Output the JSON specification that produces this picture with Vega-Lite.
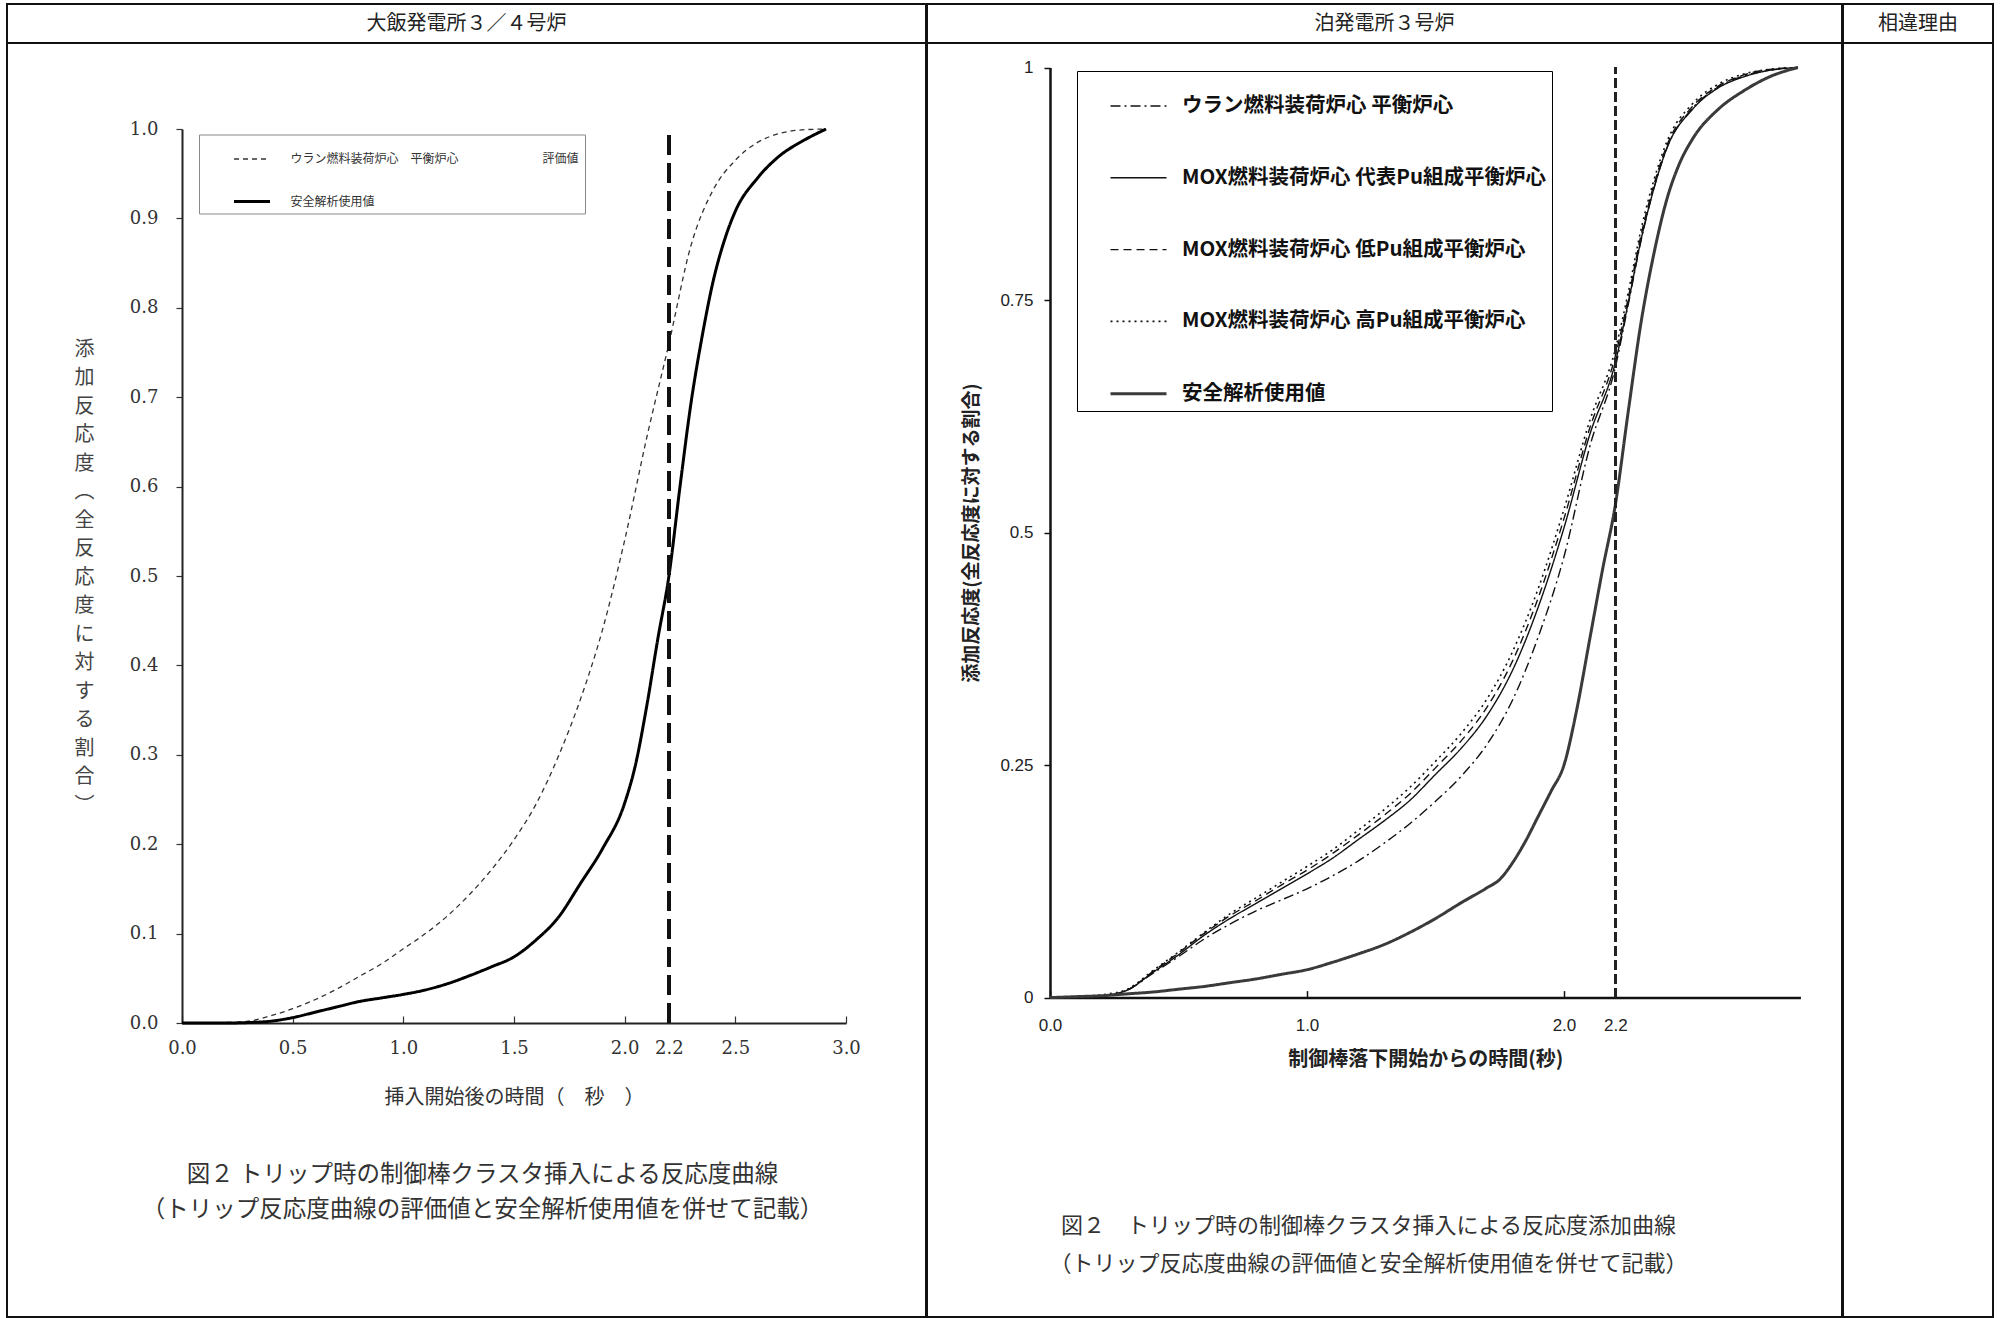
{
  "$schema": "https://vega.github.io/schema/vega-lite/v6.json",
  "background": "white",
  "padding": {"left": 6, "top": 3, "right": 0, "bottom": 0},
  "config": {
    "view": {"stroke": "#111", "strokeWidth": 2},
    "font": "Noto Sans CJK JP",
    "axis": {"grid": false}
  },
  "spacing": -2,
  "resolve": {
    "scale": {"color": "independent", "strokeDash": "independent", "strokeWidth": "independent"},
    "legend": {"color": "independent", "strokeDash": "independent", "strokeWidth": "independent"}
  },
  "hconcat": [
    {
      "spacing": 0,
      "bounds": "flush",
      "resolve": {
        "scale": {"color": "independent", "strokeDash": "independent", "strokeWidth": "independent"},
        "legend": {"color": "independent", "strokeDash": "independent", "strokeWidth": "independent"}
      },
      "vconcat": [
        {
          "width": 919, "height": 39,
          "data": {"values": [{"h": "大飯発電所３／４号炉"}]},
          "mark": {"type": "text", "fontSize": 20, "color": "#222"},
          "encoding": {
            "text": {"field": "h"},
            "x": {"datum": 0.5, "type": "quantitative", "scale": {"domain": [0, 1]}, "axis": null}
          }
        },
        {
          "width": 919, "height": 1274,
          "title": {
            "text": ["図２ トリップ時の制御棒クラスタ挿入による反応度曲線", "（トリップ反応度曲線の評価値と安全解析使用値を併せて記載）"],
            "orient": "bottom", "anchor": "middle", "frame": "group",
            "offset": -154, "dx": 16, "fontSize": 23.5, "lineHeight": 35,
            "fontWeight": "normal", "font": "Noto Sans CJK JP", "color": "#333", "baseline": "top"
          },
          "data": {"values": [
            {"s": "ウラン燃料装荷炉心　平衡炉心　　　　　　　評価値　　　　　", "t": 0, "v": 0},
            {"s": "ウラン燃料装荷炉心　平衡炉心　　　　　　　評価値　　　　　", "t": 0.1, "v": 0},
            {"s": "ウラン燃料装荷炉心　平衡炉心　　　　　　　評価値　　　　　", "t": 0.2, "v": 0.0005},
            {"s": "ウラン燃料装荷炉心　平衡炉心　　　　　　　評価値　　　　　", "t": 0.3, "v": 0.002},
            {"s": "ウラン燃料装荷炉心　平衡炉心　　　　　　　評価値　　　　　", "t": 0.4, "v": 0.008},
            {"s": "ウラン燃料装荷炉心　平衡炉心　　　　　　　評価値　　　　　", "t": 0.5, "v": 0.016},
            {"s": "ウラン燃料装荷炉心　平衡炉心　　　　　　　評価値　　　　　", "t": 0.6, "v": 0.026},
            {"s": "ウラン燃料装荷炉心　平衡炉心　　　　　　　評価値　　　　　", "t": 0.7, "v": 0.038},
            {"s": "ウラン燃料装荷炉心　平衡炉心　　　　　　　評価値　　　　　", "t": 0.8, "v": 0.052},
            {"s": "ウラン燃料装荷炉心　平衡炉心　　　　　　　評価値　　　　　", "t": 0.9, "v": 0.066},
            {"s": "ウラン燃料装荷炉心　平衡炉心　　　　　　　評価値　　　　　", "t": 1.0, "v": 0.083},
            {"s": "ウラン燃料装荷炉心　平衡炉心　　　　　　　評価値　　　　　", "t": 1.1, "v": 0.100},
            {"s": "ウラン燃料装荷炉心　平衡炉心　　　　　　　評価値　　　　　", "t": 1.2, "v": 0.120},
            {"s": "ウラン燃料装荷炉心　平衡炉心　　　　　　　評価値　　　　　", "t": 1.3, "v": 0.144},
            {"s": "ウラン燃料装荷炉心　平衡炉心　　　　　　　評価値　　　　　", "t": 1.4, "v": 0.172},
            {"s": "ウラン燃料装荷炉心　平衡炉心　　　　　　　評価値　　　　　", "t": 1.5, "v": 0.205},
            {"s": "ウラン燃料装荷炉心　平衡炉心　　　　　　　評価値　　　　　", "t": 1.6, "v": 0.245},
            {"s": "ウラン燃料装荷炉心　平衡炉心　　　　　　　評価値　　　　　", "t": 1.7, "v": 0.298},
            {"s": "ウラン燃料装荷炉心　平衡炉心　　　　　　　評価値　　　　　", "t": 1.8, "v": 0.362},
            {"s": "ウラン燃料装荷炉心　平衡炉心　　　　　　　評価値　　　　　", "t": 1.9, "v": 0.440},
            {"s": "ウラン燃料装荷炉心　平衡炉心　　　　　　　評価値　　　　　", "t": 2.0, "v": 0.540},
            {"s": "ウラン燃料装荷炉心　平衡炉心　　　　　　　評価値　　　　　", "t": 2.1, "v": 0.655},
            {"s": "ウラン燃料装荷炉心　平衡炉心　　　　　　　評価値　　　　　", "t": 2.2, "v": 0.760},
            {"s": "ウラン燃料装荷炉心　平衡炉心　　　　　　　評価値　　　　　", "t": 2.3, "v": 0.870},
            {"s": "ウラン燃料装荷炉心　平衡炉心　　　　　　　評価値　　　　　", "t": 2.4, "v": 0.932},
            {"s": "ウラン燃料装荷炉心　平衡炉心　　　　　　　評価値　　　　　", "t": 2.5, "v": 0.965},
            {"s": "ウラン燃料装荷炉心　平衡炉心　　　　　　　評価値　　　　　", "t": 2.6, "v": 0.985},
            {"s": "ウラン燃料装荷炉心　平衡炉心　　　　　　　評価値　　　　　", "t": 2.7, "v": 0.995},
            {"s": "ウラン燃料装荷炉心　平衡炉心　　　　　　　評価値　　　　　", "t": 2.8, "v": 0.999},
            {"s": "ウラン燃料装荷炉心　平衡炉心　　　　　　　評価値　　　　　", "t": 2.91, "v": 1.0},
            {"s": "安全解析使用値", "t": 0, "v": 0},
            {"s": "安全解析使用値", "t": 0.2, "v": 0},
            {"s": "安全解析使用値", "t": 0.3, "v": 0.0005},
            {"s": "安全解析使用値", "t": 0.4, "v": 0.002},
            {"s": "安全解析使用値", "t": 0.5, "v": 0.006},
            {"s": "安全解析使用値", "t": 0.6, "v": 0.012},
            {"s": "安全解析使用値", "t": 0.7, "v": 0.018},
            {"s": "安全解析使用値", "t": 0.8, "v": 0.024},
            {"s": "安全解析使用値", "t": 0.9, "v": 0.028},
            {"s": "安全解析使用値", "t": 1.0, "v": 0.032},
            {"s": "安全解析使用値", "t": 1.1, "v": 0.037},
            {"s": "安全解析使用値", "t": 1.2, "v": 0.044},
            {"s": "安全解析使用値", "t": 1.3, "v": 0.053},
            {"s": "安全解析使用値", "t": 1.4, "v": 0.063},
            {"s": "安全解析使用値", "t": 1.5, "v": 0.074},
            {"s": "安全解析使用値", "t": 1.6, "v": 0.093},
            {"s": "安全解析使用値", "t": 1.7, "v": 0.118},
            {"s": "安全解析使用値", "t": 1.8, "v": 0.156},
            {"s": "安全解析使用値", "t": 1.9, "v": 0.195},
            {"s": "安全解析使用値", "t": 2.0, "v": 0.246},
            {"s": "安全解析使用値", "t": 2.05, "v": 0.290},
            {"s": "安全解析使用値", "t": 2.1, "v": 0.355},
            {"s": "安全解析使用値", "t": 2.15, "v": 0.430},
            {"s": "安全解析使用値", "t": 2.2, "v": 0.500},
            {"s": "安全解析使用値", "t": 2.25, "v": 0.600},
            {"s": "安全解析使用値", "t": 2.3, "v": 0.694},
            {"s": "安全解析使用値", "t": 2.35, "v": 0.768},
            {"s": "安全解析使用値", "t": 2.4, "v": 0.830},
            {"s": "安全解析使用値", "t": 2.45, "v": 0.875},
            {"s": "安全解析使用値", "t": 2.5, "v": 0.908},
            {"s": "安全解析使用値", "t": 2.6, "v": 0.945},
            {"s": "安全解析使用値", "t": 2.7, "v": 0.970},
            {"s": "安全解析使用値", "t": 2.8, "v": 0.986},
            {"s": "安全解析使用値", "t": 2.91, "v": 1.0}
          ]},
          "layer": [
            {
              "mark": {"type": "line", "interpolate": "monotone"},
              "encoding": {
                "x": {
                  "field": "t", "type": "quantitative",
                  "scale": {"domain": [0, 3], "range": [175, 839], "nice": false, "zero": false},
                  "axis": {
                    "title": "挿入開始後の時間（　秒　）",
                    "values": [0, 0.5, 1, 1.5, 2, 2.2, 2.5, 3], "format": ".1f",
                    "offset": -294, "tickSize": -7, "tickColor": "#333", "tickWidth": 1.2,
                    "domainColor": "#222", "domainWidth": 2,
                    "labelFont": "DejaVu Serif", "labelFontSize": 18, "labelColor": "#333",
                    "labelPadding": 23, "labelFlush": false, "labelOverlap": false,
                    "titleFont": "Noto Sans CJK JP", "titleFontSize": 20, "titleFontWeight": "normal",
                    "titleColor": "#333", "titlePadding": 30
                  }
                },
                "y": {
                  "field": "v", "type": "quantitative",
                  "scale": {"domain": [0, 1], "range": [980, 86], "nice": false, "zero": false},
                  "axis": {
                    "title": ["添", "加", "反", "応", "度", "　", "︵", "全", "反", "応", "度", "に", "対", "す", "る", "割", "合", "︶"],
                    "values": [0, 0.1, 0.2, 0.3, 0.4, 0.5, 0.6, 0.7, 0.8, 0.9, 1.0], "format": ".1f",
                    "offset": -175, "tickSize": 6, "tickColor": "#333", "tickWidth": 1.2,
                    "domainColor": "#222", "domainWidth": 2,
                    "labelFont": "DejaVu Serif", "labelFontSize": 18, "labelColor": "#333",
                    "labelPadding": 18, "labelFlush": false, "labelOverlap": false,
                    "titleAngle": 0, "titleX": -98, "titleY": 306, "titleAlign": "center", "titleBaseline": "middle",
                    "titleLineHeight": 28.5, "titleFont": "Noto Sans CJK JP", "titleFontSize": 20,
                    "titleFontWeight": "normal", "titleColor": "#444"
                  }
                },
                "color": {
                  "field": "s", "type": "nominal",
                  "scale": {"domain": ["ウラン燃料装荷炉心　平衡炉心　　　　　　　評価値　　　　　", "安全解析使用値"], "range": ["#333", "#000"]},
                  "legend": {"title": null, "orient": "none", "legendX": 192, "legendY": 91.5, "strokeColor": "#8a8a8a", "fillColor": "white", "padding": 5.5, "symbolType": "stroke", "symbolSize": 1296, "symbolOffset": 28, "symbolStrokeWidth": 2, "labelOffset": 19, "labelFontSize": 12, "labelFont": "Noto Sans CJK JP", "labelColor": "#333", "rowPadding": 17, "labelLimit": 800}
                },
                "strokeDash": {
                  "field": "s", "type": "nominal",
                  "scale": {"domain": ["ウラン燃料装荷炉心　平衡炉心　　　　　　　評価値　　　　　", "安全解析使用値"], "range": [[5, 4], [1, 0]]},
                  "legend": {"title": null, "orient": "none", "legendX": 192, "legendY": 91.5, "strokeColor": "#8a8a8a", "fillColor": "white", "padding": 5.5, "symbolType": "stroke", "symbolSize": 1296, "symbolOffset": 28, "symbolStrokeWidth": 2, "labelOffset": 19, "labelFontSize": 12, "labelFont": "Noto Sans CJK JP", "labelColor": "#333", "rowPadding": 17, "labelLimit": 800}
                },
                "strokeWidth": {
                  "field": "s", "type": "nominal",
                  "scale": {"type": "ordinal", "domain": ["ウラン燃料装荷炉心　平衡炉心　　　　　　　評価値　　　　　", "安全解析使用値"], "range": [1.3, 3]},
                  "legend": {"title": null, "orient": "none", "legendX": 192, "legendY": 91.5, "strokeColor": "#8a8a8a", "fillColor": "white", "padding": 5.5, "symbolType": "stroke", "symbolSize": 1296, "symbolOffset": 28, "symbolStrokeWidth": 2, "labelOffset": 19, "labelFontSize": 12, "labelFont": "Noto Sans CJK JP", "labelColor": "#333", "rowPadding": 17, "labelLimit": 800}
                }
              }
            },
            {
              "mark": {"type": "rule", "strokeDash": [20, 8], "strokeWidth": 3.5, "color": "#111"},
              "encoding": {"x": {"datum": 2.2}, "y": {"datum": 0}, "y2": {"datum": 1}}
            }
          ]
        }
      ]
    },
    {
      "spacing": 0,
      "bounds": "flush",
      "resolve": {
        "scale": {"color": "independent", "strokeDash": "independent", "strokeWidth": "independent"},
        "legend": {"color": "independent", "strokeDash": "independent", "strokeWidth": "independent"}
      },
      "vconcat": [
        {
          "width": 915, "height": 39,
          "data": {"values": [{"h": "泊発電所３号炉"}]},
          "mark": {"type": "text", "fontSize": 20, "color": "#222"},
          "encoding": {
            "text": {"field": "h"},
            "x": {"datum": 0.5, "type": "quantitative", "scale": {"domain": [0, 1]}, "axis": null}
          }
        },
        {
          "width": 915, "height": 1274,
          "title": {
            "text": ["図２　トリップ時の制御棒クラスタ挿入による反応度添加曲線", "（トリップ反応度曲線の評価値と安全解析使用値を併せて記載）"],
            "orient": "bottom", "anchor": "middle", "frame": "group",
            "offset": -101, "dx": -16, "fontSize": 22, "lineHeight": 38,
            "fontWeight": "normal", "font": "Noto Sans CJK JP", "color": "#333", "baseline": "top"
          },
          "data": {"values": [
            {"s": "ウラン燃料装荷炉心 平衡炉心", "t": 0, "v": 0},
            {"s": "ウラン燃料装荷炉心 平衡炉心", "t": 0.1, "v": 0.001},
            {"s": "ウラン燃料装荷炉心 平衡炉心", "t": 0.2, "v": 0.002},
            {"s": "ウラン燃料装荷炉心 平衡炉心", "t": 0.3, "v": 0.008},
            {"s": "ウラン燃料装荷炉心 平衡炉心", "t": 0.4, "v": 0.026},
            {"s": "ウラン燃料装荷炉心 平衡炉心", "t": 0.5, "v": 0.044},
            {"s": "ウラン燃料装荷炉心 平衡炉心", "t": 0.6, "v": 0.063},
            {"s": "ウラン燃料装荷炉心 平衡炉心", "t": 0.7, "v": 0.079},
            {"s": "ウラン燃料装荷炉心 平衡炉心", "t": 0.8, "v": 0.093},
            {"s": "ウラン燃料装荷炉心 平衡炉心", "t": 0.9, "v": 0.105},
            {"s": "ウラン燃料装荷炉心 平衡炉心", "t": 1.0, "v": 0.117},
            {"s": "ウラン燃料装荷炉心 平衡炉心", "t": 1.1, "v": 0.131},
            {"s": "ウラン燃料装荷炉心 平衡炉心", "t": 1.2, "v": 0.147},
            {"s": "ウラン燃料装荷炉心 平衡炉心", "t": 1.3, "v": 0.166},
            {"s": "ウラン燃料装荷炉心 平衡炉心", "t": 1.4, "v": 0.187},
            {"s": "ウラン燃料装荷炉心 平衡炉心", "t": 1.5, "v": 0.211},
            {"s": "ウラン燃料装荷炉心 平衡炉心", "t": 1.6, "v": 0.238},
            {"s": "ウラン燃料装荷炉心 平衡炉心", "t": 1.7, "v": 0.272},
            {"s": "ウラン燃料装荷炉心 平衡炉心", "t": 1.8, "v": 0.320},
            {"s": "ウラン燃料装荷炉心 平衡炉心", "t": 1.9, "v": 0.388},
            {"s": "ウラン燃料装荷炉心 平衡炉心", "t": 2.0, "v": 0.474},
            {"s": "ウラン燃料装荷炉心 平衡炉心", "t": 2.1, "v": 0.592},
            {"s": "ウラン燃料装荷炉心 平衡炉心", "t": 2.2, "v": 0.678},
            {"s": "ウラン燃料装荷炉心 平衡炉心", "t": 2.25, "v": 0.745},
            {"s": "ウラン燃料装荷炉心 平衡炉心", "t": 2.3, "v": 0.814},
            {"s": "ウラン燃料装荷炉心 平衡炉心", "t": 2.35, "v": 0.870},
            {"s": "ウラン燃料装荷炉心 平衡炉心", "t": 2.4, "v": 0.913},
            {"s": "ウラン燃料装荷炉心 平衡炉心", "t": 2.5, "v": 0.956},
            {"s": "ウラン燃料装荷炉心 平衡炉心", "t": 2.6, "v": 0.979},
            {"s": "ウラン燃料装荷炉心 平衡炉心", "t": 2.7, "v": 0.991},
            {"s": "ウラン燃料装荷炉心 平衡炉心", "t": 2.8, "v": 0.997},
            {"s": "ウラン燃料装荷炉心 平衡炉心", "t": 2.91, "v": 1.0},
            {"s": "MOX燃料装荷炉心 代表Pu組成平衡炉心", "t": 0, "v": 0},
            {"s": "MOX燃料装荷炉心 代表Pu組成平衡炉心", "t": 0.1, "v": 0.001},
            {"s": "MOX燃料装荷炉心 代表Pu組成平衡炉心", "t": 0.2, "v": 0.002},
            {"s": "MOX燃料装荷炉心 代表Pu組成平衡炉心", "t": 0.3, "v": 0.008},
            {"s": "MOX燃料装荷炉心 代表Pu組成平衡炉心", "t": 0.4, "v": 0.027},
            {"s": "MOX燃料装荷炉心 代表Pu組成平衡炉心", "t": 0.5, "v": 0.046},
            {"s": "MOX燃料装荷炉心 代表Pu組成平衡炉心", "t": 0.6, "v": 0.067},
            {"s": "MOX燃料装荷炉心 代表Pu組成平衡炉心", "t": 0.7, "v": 0.085},
            {"s": "MOX燃料装荷炉心 代表Pu組成平衡炉心", "t": 0.8, "v": 0.101},
            {"s": "MOX燃料装荷炉心 代表Pu組成平衡炉心", "t": 0.9, "v": 0.117},
            {"s": "MOX燃料装荷炉心 代表Pu組成平衡炉心", "t": 1.0, "v": 0.133},
            {"s": "MOX燃料装荷炉心 代表Pu組成平衡炉心", "t": 1.1, "v": 0.150},
            {"s": "MOX燃料装荷炉心 代表Pu組成平衡炉心", "t": 1.2, "v": 0.170},
            {"s": "MOX燃料装荷炉心 代表Pu組成平衡炉心", "t": 1.3, "v": 0.190},
            {"s": "MOX燃料装荷炉心 代表Pu組成平衡炉心", "t": 1.4, "v": 0.212},
            {"s": "MOX燃料装荷炉心 代表Pu組成平衡炉心", "t": 1.5, "v": 0.240},
            {"s": "MOX燃料装荷炉心 代表Pu組成平衡炉心", "t": 1.6, "v": 0.268},
            {"s": "MOX燃料装荷炉心 代表Pu組成平衡炉心", "t": 1.7, "v": 0.303},
            {"s": "MOX燃料装荷炉心 代表Pu組成平衡炉心", "t": 1.8, "v": 0.352},
            {"s": "MOX燃料装荷炉心 代表Pu組成平衡炉心", "t": 1.9, "v": 0.420},
            {"s": "MOX燃料装荷炉心 代表Pu組成平衡炉心", "t": 2.0, "v": 0.505},
            {"s": "MOX燃料装荷炉心 代表Pu組成平衡炉心", "t": 2.1, "v": 0.605},
            {"s": "MOX燃料装荷炉心 代表Pu組成平衡炉心", "t": 2.2, "v": 0.683},
            {"s": "MOX燃料装荷炉心 代表Pu組成平衡炉心", "t": 2.25, "v": 0.747},
            {"s": "MOX燃料装荷炉心 代表Pu組成平衡炉心", "t": 2.3, "v": 0.815},
            {"s": "MOX燃料装荷炉心 代表Pu組成平衡炉心", "t": 2.35, "v": 0.870},
            {"s": "MOX燃料装荷炉心 代表Pu組成平衡炉心", "t": 2.4, "v": 0.913},
            {"s": "MOX燃料装荷炉心 代表Pu組成平衡炉心", "t": 2.5, "v": 0.955},
            {"s": "MOX燃料装荷炉心 代表Pu組成平衡炉心", "t": 2.6, "v": 0.978},
            {"s": "MOX燃料装荷炉心 代表Pu組成平衡炉心", "t": 2.7, "v": 0.990},
            {"s": "MOX燃料装荷炉心 代表Pu組成平衡炉心", "t": 2.8, "v": 0.997},
            {"s": "MOX燃料装荷炉心 代表Pu組成平衡炉心", "t": 2.91, "v": 1.0},
            {"s": "MOX燃料装荷炉心 低Pu組成平衡炉心", "t": 0, "v": 0},
            {"s": "MOX燃料装荷炉心 低Pu組成平衡炉心", "t": 0.1, "v": 0.001},
            {"s": "MOX燃料装荷炉心 低Pu組成平衡炉心", "t": 0.2, "v": 0.002},
            {"s": "MOX燃料装荷炉心 低Pu組成平衡炉心", "t": 0.3, "v": 0.008},
            {"s": "MOX燃料装荷炉心 低Pu組成平衡炉心", "t": 0.4, "v": 0.028},
            {"s": "MOX燃料装荷炉心 低Pu組成平衡炉心", "t": 0.5, "v": 0.048},
            {"s": "MOX燃料装荷炉心 低Pu組成平衡炉心", "t": 0.6, "v": 0.069},
            {"s": "MOX燃料装荷炉心 低Pu組成平衡炉心", "t": 0.7, "v": 0.088},
            {"s": "MOX燃料装荷炉心 低Pu組成平衡炉心", "t": 0.8, "v": 0.104},
            {"s": "MOX燃料装荷炉心 低Pu組成平衡炉心", "t": 0.9, "v": 0.121},
            {"s": "MOX燃料装荷炉心 低Pu組成平衡炉心", "t": 1.0, "v": 0.137},
            {"s": "MOX燃料装荷炉心 低Pu組成平衡炉心", "t": 1.1, "v": 0.155},
            {"s": "MOX燃料装荷炉心 低Pu組成平衡炉心", "t": 1.2, "v": 0.175},
            {"s": "MOX燃料装荷炉心 低Pu組成平衡炉心", "t": 1.3, "v": 0.196},
            {"s": "MOX燃料装荷炉心 低Pu組成平衡炉心", "t": 1.4, "v": 0.219},
            {"s": "MOX燃料装荷炉心 低Pu組成平衡炉心", "t": 1.5, "v": 0.247},
            {"s": "MOX燃料装荷炉心 低Pu組成平衡炉心", "t": 1.6, "v": 0.276},
            {"s": "MOX燃料装荷炉心 低Pu組成平衡炉心", "t": 1.7, "v": 0.312},
            {"s": "MOX燃料装荷炉心 低Pu組成平衡炉心", "t": 1.8, "v": 0.362},
            {"s": "MOX燃料装荷炉心 低Pu組成平衡炉心", "t": 1.9, "v": 0.430},
            {"s": "MOX燃料装荷炉心 低Pu組成平衡炉心", "t": 2.0, "v": 0.515},
            {"s": "MOX燃料装荷炉心 低Pu組成平衡炉心", "t": 2.1, "v": 0.612},
            {"s": "MOX燃料装荷炉心 低Pu組成平衡炉心", "t": 2.2, "v": 0.690},
            {"s": "MOX燃料装荷炉心 低Pu組成平衡炉心", "t": 2.25, "v": 0.752},
            {"s": "MOX燃料装荷炉心 低Pu組成平衡炉心", "t": 2.3, "v": 0.820},
            {"s": "MOX燃料装荷炉心 低Pu組成平衡炉心", "t": 2.35, "v": 0.874},
            {"s": "MOX燃料装荷炉心 低Pu組成平衡炉心", "t": 2.4, "v": 0.916},
            {"s": "MOX燃料装荷炉心 低Pu組成平衡炉心", "t": 2.5, "v": 0.958},
            {"s": "MOX燃料装荷炉心 低Pu組成平衡炉心", "t": 2.6, "v": 0.980},
            {"s": "MOX燃料装荷炉心 低Pu組成平衡炉心", "t": 2.7, "v": 0.992},
            {"s": "MOX燃料装荷炉心 低Pu組成平衡炉心", "t": 2.8, "v": 0.998},
            {"s": "MOX燃料装荷炉心 低Pu組成平衡炉心", "t": 2.91, "v": 1.0},
            {"s": "MOX燃料装荷炉心 高Pu組成平衡炉心", "t": 0, "v": 0},
            {"s": "MOX燃料装荷炉心 高Pu組成平衡炉心", "t": 0.1, "v": 0.001},
            {"s": "MOX燃料装荷炉心 高Pu組成平衡炉心", "t": 0.2, "v": 0.003},
            {"s": "MOX燃料装荷炉心 高Pu組成平衡炉心", "t": 0.3, "v": 0.009},
            {"s": "MOX燃料装荷炉心 高Pu組成平衡炉心", "t": 0.4, "v": 0.029},
            {"s": "MOX燃料装荷炉心 高Pu組成平衡炉心", "t": 0.5, "v": 0.049},
            {"s": "MOX燃料装荷炉心 高Pu組成平衡炉心", "t": 0.6, "v": 0.070},
            {"s": "MOX燃料装荷炉心 高Pu組成平衡炉心", "t": 0.7, "v": 0.090},
            {"s": "MOX燃料装荷炉心 高Pu組成平衡炉心", "t": 0.8, "v": 0.107},
            {"s": "MOX燃料装荷炉心 高Pu組成平衡炉心", "t": 0.9, "v": 0.124},
            {"s": "MOX燃料装荷炉心 高Pu組成平衡炉心", "t": 1.0, "v": 0.141},
            {"s": "MOX燃料装荷炉心 高Pu組成平衡炉心", "t": 1.1, "v": 0.159},
            {"s": "MOX燃料装荷炉心 高Pu組成平衡炉心", "t": 1.2, "v": 0.180},
            {"s": "MOX燃料装荷炉心 高Pu組成平衡炉心", "t": 1.3, "v": 0.202},
            {"s": "MOX燃料装荷炉心 高Pu組成平衡炉心", "t": 1.4, "v": 0.226},
            {"s": "MOX燃料装荷炉心 高Pu組成平衡炉心", "t": 1.5, "v": 0.254},
            {"s": "MOX燃料装荷炉心 高Pu組成平衡炉心", "t": 1.6, "v": 0.284},
            {"s": "MOX燃料装荷炉心 高Pu組成平衡炉心", "t": 1.7, "v": 0.321},
            {"s": "MOX燃料装荷炉心 高Pu組成平衡炉心", "t": 1.8, "v": 0.372},
            {"s": "MOX燃料装荷炉心 高Pu組成平衡炉心", "t": 1.9, "v": 0.440},
            {"s": "MOX燃料装荷炉心 高Pu組成平衡炉心", "t": 2.0, "v": 0.525},
            {"s": "MOX燃料装荷炉心 高Pu組成平衡炉心", "t": 2.1, "v": 0.620},
            {"s": "MOX燃料装荷炉心 高Pu組成平衡炉心", "t": 2.2, "v": 0.697},
            {"s": "MOX燃料装荷炉心 高Pu組成平衡炉心", "t": 2.25, "v": 0.758},
            {"s": "MOX燃料装荷炉心 高Pu組成平衡炉心", "t": 2.3, "v": 0.826},
            {"s": "MOX燃料装荷炉心 高Pu組成平衡炉心", "t": 2.35, "v": 0.879},
            {"s": "MOX燃料装荷炉心 高Pu組成平衡炉心", "t": 2.4, "v": 0.920},
            {"s": "MOX燃料装荷炉心 高Pu組成平衡炉心", "t": 2.5, "v": 0.961},
            {"s": "MOX燃料装荷炉心 高Pu組成平衡炉心", "t": 2.6, "v": 0.982},
            {"s": "MOX燃料装荷炉心 高Pu組成平衡炉心", "t": 2.7, "v": 0.993},
            {"s": "MOX燃料装荷炉心 高Pu組成平衡炉心", "t": 2.8, "v": 0.998},
            {"s": "MOX燃料装荷炉心 高Pu組成平衡炉心", "t": 2.91, "v": 1.0},
            {"s": "安全解析使用値", "t": 0, "v": 0},
            {"s": "安全解析使用値", "t": 0.1, "v": 0.001},
            {"s": "安全解析使用値", "t": 0.2, "v": 0.002},
            {"s": "安全解析使用値", "t": 0.3, "v": 0.004},
            {"s": "安全解析使用値", "t": 0.4, "v": 0.006},
            {"s": "安全解析使用値", "t": 0.5, "v": 0.009},
            {"s": "安全解析使用値", "t": 0.6, "v": 0.012},
            {"s": "安全解析使用値", "t": 0.7, "v": 0.016},
            {"s": "安全解析使用値", "t": 0.8, "v": 0.020},
            {"s": "安全解析使用値", "t": 0.9, "v": 0.025},
            {"s": "安全解析使用値", "t": 1.0, "v": 0.030},
            {"s": "安全解析使用値", "t": 1.1, "v": 0.038},
            {"s": "安全解析使用値", "t": 1.2, "v": 0.047},
            {"s": "安全解析使用値", "t": 1.3, "v": 0.057},
            {"s": "安全解析使用値", "t": 1.4, "v": 0.070},
            {"s": "安全解析使用値", "t": 1.5, "v": 0.085},
            {"s": "安全解析使用値", "t": 1.6, "v": 0.102},
            {"s": "安全解析使用値", "t": 1.7, "v": 0.118},
            {"s": "安全解析使用値", "t": 1.75, "v": 0.127},
            {"s": "安全解析使用値", "t": 1.8, "v": 0.145},
            {"s": "安全解析使用値", "t": 1.85, "v": 0.168},
            {"s": "安全解析使用値", "t": 1.9, "v": 0.195},
            {"s": "安全解析使用値", "t": 1.95, "v": 0.222},
            {"s": "安全解析使用値", "t": 2.0, "v": 0.250},
            {"s": "安全解析使用値", "t": 2.05, "v": 0.310},
            {"s": "安全解析使用値", "t": 2.1, "v": 0.385},
            {"s": "安全解析使用値", "t": 2.15, "v": 0.460},
            {"s": "安全解析使用値", "t": 2.2, "v": 0.530},
            {"s": "安全解析使用値", "t": 2.25, "v": 0.630},
            {"s": "安全解析使用値", "t": 2.3, "v": 0.726},
            {"s": "安全解析使用値", "t": 2.35, "v": 0.800},
            {"s": "安全解析使用値", "t": 2.4, "v": 0.858},
            {"s": "安全解析使用値", "t": 2.45, "v": 0.897},
            {"s": "安全解析使用値", "t": 2.5, "v": 0.923},
            {"s": "安全解析使用値", "t": 2.6, "v": 0.955},
            {"s": "安全解析使用値", "t": 2.7, "v": 0.975},
            {"s": "安全解析使用値", "t": 2.8, "v": 0.990},
            {"s": "安全解析使用値", "t": 2.91, "v": 1.0}
          ]},
          "layer": [
            {
              "mark": {"type": "line", "interpolate": "monotone"},
              "encoding": {
                "x": {
                  "field": "t", "type": "quantitative",
                  "scale": {"domain": [0, 2.92], "range": [123, 873.4], "nice": false, "zero": false},
                  "axis": {
                    "title": "制御棒落下開始からの時間(秒)",
                    "values": [0, 1, 2, 2.2], "format": ".1f",
                    "offset": -319.4, "tickSize": -7, "tickColor": "#111", "tickWidth": 1.5,
                    "domainColor": "#111", "domainWidth": 2.5,
                    "labelFont": "Liberation Sans", "labelFontSize": 17, "labelColor": "#222",
                    "labelPadding": 27, "labelFlush": false, "labelOverlap": false,
                    "titleFont": "Noto Sans CJK JP", "titleFontSize": 20, "titleFontWeight": "bold",
                    "titleColor": "#222", "titlePadding": 16
                  }
                },
                "y": {
                  "field": "v", "type": "quantitative",
                  "scale": {"domain": [0, 1], "range": [954.6, 24.5], "nice": false, "zero": false},
                  "axis": {
                    "title": "添加反応度(全反応度に対する割合)",
                    "values": [0, 0.25, 0.5, 0.75, 1], "format": "~g",
                    "offset": -123, "tickSize": 6, "tickColor": "#111", "tickWidth": 1.5,
                    "domainColor": "#111", "domainWidth": 2.5,
                    "labelFont": "Liberation Sans", "labelFontSize": 17, "labelColor": "#222",
                    "labelPadding": 11, "labelFlush": false, "labelOverlap": false,
                    "titleFont": "Noto Sans CJK JP", "titleFontSize": 19, "titleFontWeight": "bold",
                    "titleColor": "#222", "titlePadding": 18
                  }
                },
                "color": {
                  "field": "s", "type": "nominal",
                  "scale": {"domain": ["ウラン燃料装荷炉心 平衡炉心", "MOX燃料装荷炉心 代表Pu組成平衡炉心", "MOX燃料装荷炉心 低Pu組成平衡炉心", "MOX燃料装荷炉心 高Pu組成平衡炉心", "安全解析使用値"], "range": ["#111", "#111", "#111", "#111", "#3a3a3a"]},
                  "legend": {"title": null, "orient": "none", "legendX": 150, "legendY": 28, "strokeColor": "#000", "fillColor": "white", "padding": 6, "symbolType": "stroke", "symbolSize": 3136, "symbolOffset": 26, "symbolStrokeWidth": 2, "labelOffset": 14, "labelFontSize": 20.5, "labelFontWeight": "bold", "labelFont": "Noto Sans CJK JP", "labelColor": "#111", "rowPadding": 31.8, "labelLimit": 800}
                },
                "strokeDash": {
                  "field": "s", "type": "nominal",
                  "scale": {"domain": ["ウラン燃料装荷炉心 平衡炉心", "MOX燃料装荷炉心 代表Pu組成平衡炉心", "MOX燃料装荷炉心 低Pu組成平衡炉心", "MOX燃料装荷炉心 高Pu組成平衡炉心", "安全解析使用値"], "range": [[10, 4, 2, 4], [1, 0], [8, 5], [2, 4], [1, 0]]},
                  "legend": {"title": null, "orient": "none", "legendX": 150, "legendY": 28, "strokeColor": "#000", "fillColor": "white", "padding": 6, "symbolType": "stroke", "symbolSize": 3136, "symbolOffset": 26, "symbolStrokeWidth": 2, "labelOffset": 14, "labelFontSize": 20.5, "labelFontWeight": "bold", "labelFont": "Noto Sans CJK JP", "labelColor": "#111", "rowPadding": 31.8, "labelLimit": 800}
                },
                "strokeWidth": {
                  "field": "s", "type": "nominal",
                  "scale": {"type": "ordinal", "domain": ["ウラン燃料装荷炉心 平衡炉心", "MOX燃料装荷炉心 代表Pu組成平衡炉心", "MOX燃料装荷炉心 低Pu組成平衡炉心", "MOX燃料装荷炉心 高Pu組成平衡炉心", "安全解析使用値"], "range": [1.4, 1.4, 1.4, 1.6, 3]},
                  "legend": {"title": null, "orient": "none", "legendX": 150, "legendY": 28, "strokeColor": "#000", "fillColor": "white", "padding": 6, "symbolType": "stroke", "symbolSize": 3136, "symbolOffset": 26, "symbolStrokeWidth": 2, "labelOffset": 14, "labelFontSize": 20.5, "labelFontWeight": "bold", "labelFont": "Noto Sans CJK JP", "labelColor": "#111", "rowPadding": 31.8, "labelLimit": 800}
                }
              }
            },
            {
              "mark": {"type": "rule", "strokeDash": [9, 5], "strokeWidth": 1.5, "color": "#222"},
              "encoding": {"x": {"datum": 2.2}, "y": {"datum": 0}, "y2": {"datum": 1}}
            }
          ]
        }
      ]
    },
    {
      "spacing": 0,
      "bounds": "flush",
      "vconcat": [
        {
          "width": 150, "height": 39,
          "data": {"values": [{"h": "相違理由"}]},
          "mark": {"type": "text", "fontSize": 20, "color": "#222"},
          "encoding": {
            "text": {"field": "h"},
            "x": {"datum": 0.5, "type": "quantitative", "scale": {"domain": [0, 1]}, "axis": null}
          }
        },
        {
          "width": 150, "height": 1274,
          "data": {"values": [{"h": ""}]},
          "mark": {"type": "text", "fontSize": 20, "color": "#222"},
          "encoding": {
            "text": {"field": "h"},
            "x": {"datum": 0.5, "type": "quantitative", "scale": {"domain": [0, 1]}, "axis": null}
          }
        }
      ]
    }
  ]
}
